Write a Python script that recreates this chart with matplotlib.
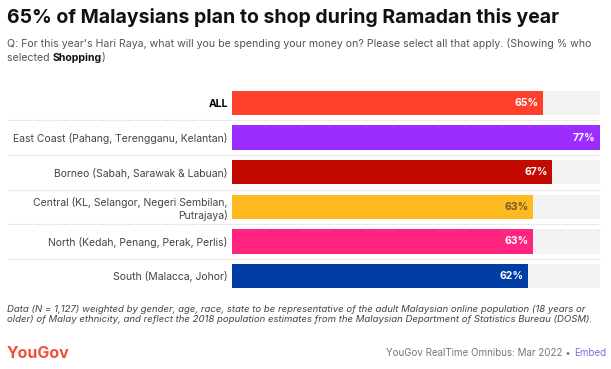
import matplotlib.pyplot as plt

plt.rcParams['font.family'] = ['Inter', 'DejaVu Sans']

# data
labels = ["ALL", "East Coast (Pahang, Terengganu, Kelantan)", "Borneo (Sabah, Sarawak & Labuan)",
          "Central (KL, Selangor, Negeri Sembilan,\nPutrajaya)", "North (Kedah, Penang, Perak, Perlis)",
          "South (Malacca, Johor)"]
values = [65, 77, 67, 63, 63, 62]
colors = ["#ff412c", "#9d2cff", "#c20a00", "#ffb921", "#ff2480", "#003da5"]
text_colors = ["white", "white", "white", "#6e5a2a", "white", "white"]

W, H = 611, 369
fig = plt.figure(figsize=(W / 100, H / 100), dpi=100)

# axes placed in pixel coords
left, right = 232, 600
top, bottom = 85.7, 293.3
ax = fig.add_axes([left / W, 1 - bottom / H, (right - left) / W, (bottom - top) / H])

y = list(range(len(values)))
vmax = max(values)
ax.barh(y, [vmax] * len(values), height=0.7, color="#f3f3f3", zorder=1)
ax.barh(y, values, height=0.7, color=colors, zorder=2)
for i, v in enumerate(values):
    ax.text(v - 0.9, i, f"{v}%", ha="right", va="center", color=text_colors[i],
            fontsize=7.5, fontweight="bold", zorder=3)

ax.set_xlim(0, vmax)
ax.set_ylim(len(values) - 0.5, -0.5)
ax.set_yticks(y)
ax.set_yticklabels(labels, fontsize=7.5, color="#444444")
ax.get_yticklabels()[0].set_fontweight("bold")
ax.get_yticklabels()[0].set_color("black")
ax.tick_params(axis="y", length=0, pad=3)
ax.set_xticks([])
for s in ax.spines.values():
    s.set_visible(False)

# dotted row separators
for i in range(len(values) - 1):
    ax.axhline(i + 0.5, xmin=(8 - left) / (right - left), xmax=1, color="#cccccc",
               linestyle=(0, (1, 1.5)), linewidth=0.8, clip_on=False)

# title and subtitle
fig.text(7 / W, 1 - 8 / H, "65% of Malaysians plan to shop during Ramadan this year",
         fontsize=14, fontweight="bold", color="#111111", va="top", ha="left")
fig.text(7 / W, 1 - 38 / H,
         "Q: For this year's Hari Raya, what will you be spending your money on? Please select all that apply. (Showing % who",
         fontsize=7.6, color="#555555", va="top", ha="left")
fig.canvas.draw()
r = fig.canvas.get_renderer()
t1 = fig.text(7 / W, 1 - 53 / H, "selected ", fontsize=7.6, color="#555555", va="top", ha="left")
x1 = t1.get_window_extent(r).x1
t2 = fig.text(x1 / W, 1 - 53 / H, "Shopping", fontsize=7.6, color="#111111", fontweight="bold",
              va="top", ha="left")
x2 = t2.get_window_extent(r).x1
fig.text(x2 / W, 1 - 53 / H, ")", fontsize=7.6, color="#555555", va="top", ha="left")

# footnote
fig.text(7 / W, 1 - 305 / H,
         "Data (N = 1,127) weighted by gender, age, race, state to be representative of the adult Malaysian online population (18 years or\n"
         "older) of Malay ethnicity, and reflect the 2018 population estimates from the Malaysian Department of Statistics Bureau (DOSM).",
         fontsize=6.9, style="italic", color="#444444", va="top", ha="left", linespacing=1.1)

# footer
fig.text(7 / W, 1 - 353 / H, "YouGov", fontsize=11.5, color="#f04e3e", va="center", ha="left",
         fontweight="bold")
te = fig.text(606 / W, 1 - 353 / H, "Embed", fontsize=7, color="#7b6fe0", va="center", ha="right")
xe = te.get_window_extent(r).x0
fig.text(xe / W, 1 - 353 / H, "YouGov RealTime Omnibus: Mar 2022 \u2022 ", fontsize=7,
         color="#777777", va="center", ha="right")

fig.savefig("out.png", dpi=100)
